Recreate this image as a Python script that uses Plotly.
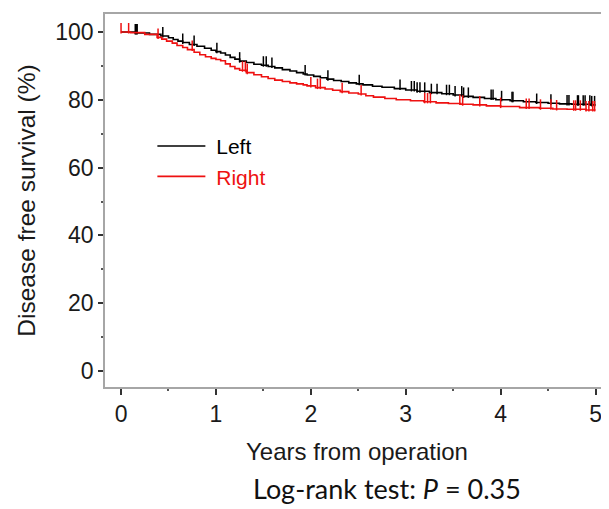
import numpy as np
import plotly.graph_objects as go

# Kaplan-Meier step data (years, survival %)
left_t = [0, 0.15, 0.3, 0.42, 0.5, 0.55, 0.6, 0.65, 0.72, 0.8, 0.88, 0.95, 1.0, 1.05, 1.1, 1.15, 1.2, 1.25,
          1.32, 1.4, 1.48, 1.55, 1.62, 1.7, 1.78, 1.85, 1.92, 1.96, 2.03, 2.1, 2.17, 2.24, 2.32, 2.4, 2.48,
          2.55, 2.65, 2.75, 2.88, 3.0, 3.12, 3.25, 3.38, 3.5, 3.6, 3.71, 3.83, 3.95, 4.1, 4.24, 4.37, 4.5,
          4.62, 4.75, 4.95, 5.0]
left_s = [100, 99.7, 99.3, 98.8, 98.3, 97.8, 97.3, 96.9, 96.3, 95.8, 95.2, 94.6, 94.2, 93.8, 93.2, 92.5, 92.0,
          91.4, 91.0, 90.5, 90.2, 89.8, 89.4, 88.9, 88.5, 88.0, 87.6, 87.3, 86.9, 86.5, 86.1, 85.7, 85.4, 85.0,
          84.7, 84.4, 84.0, 83.7, 83.3, 82.9, 82.5, 82.1, 81.8, 81.4, 81.0, 80.7, 80.4, 80.0, 79.7, 79.4,
          79.2, 79.0, 78.8, 78.7, 78.5, 78.5]
right_t = [0, 0.1, 0.25, 0.38, 0.43, 0.48, 0.54, 0.59, 0.65, 0.7, 0.77, 0.83, 0.89, 0.95, 1.0, 1.05, 1.1, 1.15,
           1.2, 1.25, 1.32, 1.4, 1.48, 1.55, 1.62, 1.7, 1.78, 1.85, 1.92, 1.96, 2.05, 2.15, 2.23, 2.31, 2.4,
           2.5, 2.58, 2.66, 2.78, 2.9, 3.05, 3.19, 3.32, 3.45, 3.58, 3.71, 3.85, 4.0, 4.2, 4.41, 4.55, 4.7,
           4.9, 5.0]
right_s = [100, 99.8, 99.3, 98.4, 97.9, 97.3, 96.7, 96.0, 95.4, 94.8, 94.0, 93.3, 92.7, 92.2, 91.9, 91.5, 90.6,
           89.8, 89.2, 88.7, 88.0, 87.4, 86.8, 86.3, 85.8, 85.4, 85.0, 84.7, 84.4, 84.1, 83.6, 83.2, 82.8,
           82.4, 82.0, 81.7, 81.2, 80.8, 80.4, 80.0, 79.7, 79.4, 79.1, 78.9, 78.7, 78.5, 78.2, 78.0, 77.7,
           77.5, 77.3, 77.2, 77.0, 77.0]

# censoring times
left_cens = [0.15, 0.16, 0.17, 0.44, 0.65, 0.77, 1.01, 1.25, 1.50, 1.53, 1.59, 1.94, 2.18, 2.51, 2.94,
             3.06, 3.09, 3.12, 3.15, 3.20, 3.27, 3.33, 3.43, 3.46, 3.52, 3.59, 3.61, 3.66, 3.90, 3.92,
             4.01, 4.12, 4.13, 4.38, 4.53, 4.70, 4.72, 4.81, 4.82, 4.87, 4.89, 4.94, 4.96, 4.99]
right_cens = [0.0, 0.08, 0.39, 0.75, 1.28, 1.31, 1.33, 2.0, 2.07, 2.10, 2.33, 2.53, 3.20, 3.23, 3.26,
              3.57, 3.60, 3.78, 4.0, 4.27, 4.30, 4.42, 4.53, 4.59, 4.77, 4.79, 4.84, 4.90, 4.93, 4.97, 4.99]

x_ticks = [0, 1, 2, 3, 4, 5]
y_ticks = [0, 20, 40, 60, 80, 100]

BLACK = "#000000"
RED = "#ee1111"


def surv_at(times, surv, q):
    idx = np.searchsorted(np.array(times), np.array(q), side="right") - 1
    return np.array(surv)[np.clip(idx, 0, len(surv) - 1)]


fig = go.Figure()
for t, s, c, col, name in [(left_t, left_s, left_cens, BLACK, "\u00a0Left"),
                           (right_t, right_s, right_cens, RED,
                            "<span style='color:%s'>\u00a0Right</span>" % RED)]:
    fig.add_trace(go.Scatter(x=t, y=s, mode="lines", line=dict(color=col, width=1.6, shape="hv"),
                             name=name, showlegend=True))
    fig.add_trace(go.Scatter(x=c, y=surv_at(t, s, c) + 1.1, mode="markers",
                             marker=dict(symbol="line-ns", size=7.5, line=dict(color=col, width=1.5)),
                             showlegend=False, hoverinfo="skip"))

axis_col = "#a6a6a6"
fig.update_layout(
    width=609, height=509,
    margin=dict(l=97, r=8, t=6, b=130, autoexpand=False),
    paper_bgcolor="white", plot_bgcolor="white",
    font=dict(family="Liberation Sans, Arial, sans-serif", size=23, color="#1a1a1a"),
    xaxis=dict(range=[-0.169, 5.142], tickvals=x_ticks, ticks="outside", ticklen=6, tickwidth=1.5,
               tickcolor="#333", showline=True, linecolor=axis_col, linewidth=1.5, mirror=True,
               showgrid=False, zeroline=False, automargin=False,
               minor=dict(dtick=0.5, ticks="outside", ticklen=2, tickwidth=1.5, tickcolor="#555"),
               title=dict(text="Years from operation", standoff=17, font=dict(size=24))),
    yaxis=dict(range=[-4.7, 105.3], tickvals=y_ticks, ticks="outside", ticklen=5, tickwidth=1.5,
               tickcolor="#333", showline=True, linecolor=axis_col, linewidth=1.5, mirror=False,
               showgrid=False, zeroline=False, automargin=False,
               minor=dict(dtick=10, ticks="outside", ticklen=2, tickwidth=1.5, tickcolor="#555"),
               title=dict(text="Disease free survival (%)", standoff=13, font=dict(size=24.5))),
    legend=dict(x=0.094, y=0.70, xanchor="left", yanchor="top", bgcolor="rgba(0,0,0,0)",
                font=dict(size=21, color=BLACK), itemwidth=48, tracegroupgap=0),
    showlegend=True,
)
fig.add_annotation(text="Log-rank test: <i>P</i> = 0.35", xref="paper", yref="paper",
                   x=0.56, y=-0.271, xanchor="center", yanchor="middle", showarrow=False,
                   font=dict(family="Lato, Noto Sans, sans-serif", size=27, color="#111"))
fig.write_html("out.html")
